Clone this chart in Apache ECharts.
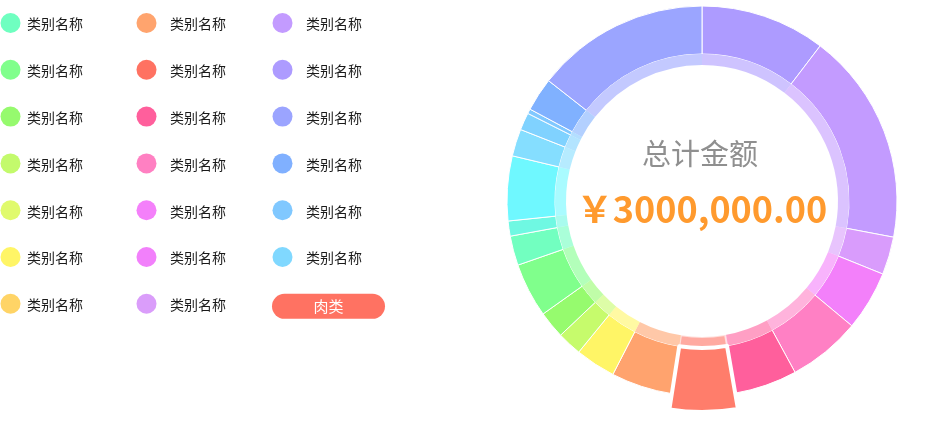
<!DOCTYPE html>
<html>
<head>
<meta charset="utf-8">
<script src="https://cdn.jsdelivr.net/npm/echarts@6/dist/echarts.min.js"></script>
<style>
  html, body { margin: 0; padding: 0; background: #fff; }
  #chart { width: 945px; height: 430px; }
</style>
</head>
<body>
<div id="chart"></div>
<script>
// ---- data ----
var ringNames = ['类别名称','类别名称','类别名称','类别名称','类别名称','类别名称','肉类','类别名称','类别名称','类别名称',
                 '类别名称','类别名称','类别名称','类别名称','类别名称','类别名称','类别名称','类别名称','类别名称','类别名称'];
var ringValues = [37.3, 63.4, 11.3, 17.8, 21.7, 18.7, 18.7, 18.3, 12.0, 7.3,
                  8.1, 16.2, 8.8, 4.5, 19.3, 8.1, 5.2, 1.4, 10.0, 51.9];
var ringColors = ['#ad9bff','#c39bff','#d99cfc','#f380fa','#ff80c4','#ff5f9c','#ff7262','#ffa36e','#fff566','#c6fb6c',
                  '#96fb6e','#80ff8c','#72ffc0','#6ff8e2','#6ff8ff','#85deff','#80d2ff','#80c8ff','#80b1ff','#9ba5ff'];
var legendNames = ['类别名称','类别名称','类别名称','类别名称','类别名称','类别名称','类别名称',
                   '类别名称','类别名称','类别名称','类别名称','类别名称','类别名称','类别名称',
                   '类别名称','类别名称','类别名称','类别名称','类别名称','类别名称'];
var legendColors = ['#6fffc0','#80ff8c','#96fa6e','#c3fa6c','#e0fa6c','#fff566','#ffd466',
                    '#ffa46e','#ff7262','#ff5f9c','#ff80c2','#f480fa','#f280fb','#da9dfa',
                    '#c39bff','#ad9bff','#9ba4ff','#80b0ff','#80c8ff','#80d8ff'];
var selectedName = '肉类';
var totalTitle = '总计金额';
var totalValue = '￥3000,000.00';

// ---- chart ----
var chart = echarts.init(document.getElementById('chart'), null, { renderer: 'canvas' });
var selIndex = ringNames.indexOf(selectedName);

function buildData(borderW, selBorderW) {
  return ringValues.map(function (v, i) {
    return {
      name: ringNames[i],
      value: v,
      itemStyle: { color: ringColors[i], borderWidth: i === selIndex ? selBorderW : borderW }
    };
  });
}

var graphics = [];
var colX = [0, 136, 272];
var textGap = [27, 34, 34];
var rowY0 = 23, rowStep = 46.8;
legendNames.forEach(function (n, i) {
  var c = Math.floor(i / 7), r = i % 7;
  var cy = rowY0 + r * rowStep;
  graphics.push({ type: 'circle', shape: { cx: colX[c] + 10.5, cy: cy, r: 10 }, style: { fill: legendColors[i] } });
  graphics.push({ type: 'text', x: colX[c] + textGap[c], y: cy + 1,
    style: { text: n, fill: '#1a1a1a', font: '14px "Noto Sans CJK SC", sans-serif', align: 'left', verticalAlign: 'middle' } });
});
(function () {
  var i = legendNames.length, c = Math.floor(i / 7), r = i % 7;
  var cy = rowY0 + r * rowStep + 2.5;
  graphics.push({ type: 'rect', shape: { x: colX[c], y: cy - 12.5, width: 113, height: 25, r: 12.5 },
    style: { fill: ringColors[selIndex] } });
  graphics.push({ type: 'text', x: colX[c] + 56.5, y: cy,
    style: { text: selectedName, fill: '#fff', font: '15px "Noto Sans CJK SC", sans-serif', align: 'center', verticalAlign: 'middle' } });
})();
graphics.push({ type: 'text', x: 700, y: 154,
  style: { text: totalTitle, fill: '#8f8f8f', font: '29px "Noto Sans CJK SC", sans-serif', align: 'center', verticalAlign: 'middle' } });
graphics.push({ type: 'text', x: 702, y: 209,
  style: { text: totalValue, fill: '#ff9a2e', font: 'bold 36px "Noto Sans CJK SC", sans-serif', align: 'center', verticalAlign: 'middle' } });

var option = {
  animation: false,
  backgroundColor: '#fff',
  graphic: graphics,
  series: [
    {
      type: 'pie',
      center: [702, 201],
      radius: [147, 195],
      startAngle: 90,
      clockwise: true,
      label: { show: false },
      labelLine: { show: false },
      itemStyle: { borderColor: '#fff', borderWidth: 1 },
      emphasis: { scale: true, scaleSize: 16, label: { show: false } },
      data: buildData(1, 4)
    },
    {
      type: 'pie',
      center: [702, 201],
      radius: [136, 147],
      startAngle: 90,
      clockwise: true,
      silent: true,
      label: { show: false },
      labelLine: { show: false },
      itemStyle: { borderColor: '#fff', borderWidth: 0, opacity: 0.6 },
      emphasis: { scale: false },
      data: buildData(0, 2)
    }
  ]
};
chart.setOption(option);
chart.dispatchAction({ type: 'highlight', seriesIndex: 0, dataIndex: selIndex });
</script>
</body>
</html>
